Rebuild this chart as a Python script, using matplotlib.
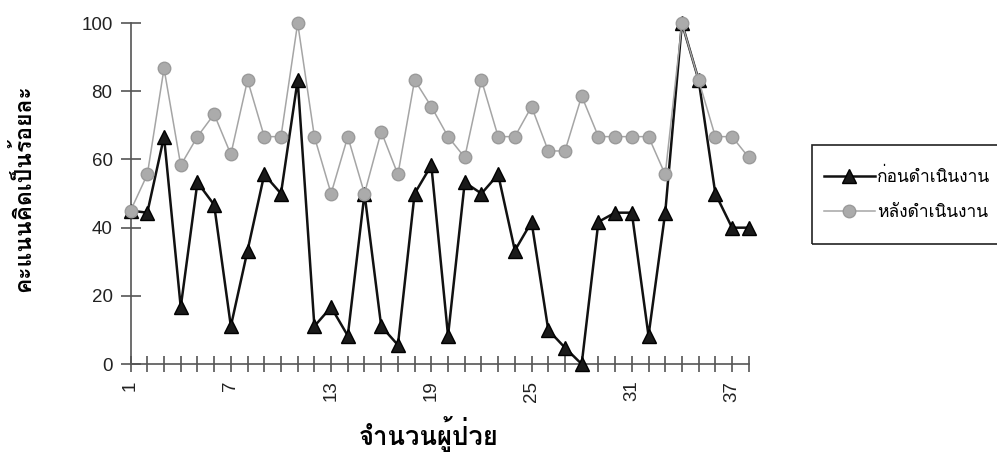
import matplotlib as mpl
mpl.use('Agg')
import matplotlib.pyplot as plt
from matplotlib import font_manager, ft2font

patients = list(range(1, 39))
before = [45, 44.4, 66.7, 16.7, 53.3, 46.7, 11.1, 33.3, 55.6, 50,
          83.3, 11.1, 16.7, 8.3, 50, 11.1, 5.6, 50, 58.3, 8.3,
          53.3, 50, 55.6, 33.3, 41.7, 10, 4.8, 0, 41.7, 44.4,
          44.4, 8.3, 44.4, 100, 83.3, 50, 40, 40]
after = [45, 55.6, 86.7, 58.3, 66.7, 73.3, 61.5, 83.3, 66.7, 66.7,
         100, 66.7, 50, 66.7, 50, 68.2, 55.6, 83.3, 75.5, 66.7,
         60.6, 83.3, 66.7, 66.7, 75.5, 62.5, 62.5, 78.6, 66.7, 66.7,
         66.7, 66.7, 55.6, 100, 83.3, 66.7, 66.7, 60.6]
labels = ['ก่อนดำเนินงาน', 'หลังดำเนินงาน']
xlabel = 'จำนวนผู้ป่วย'
ylabel = 'คะแนนคิดเป็นร้อยละ'
yticks = [0, 20, 40, 60, 80, 100]


def thai_font():
    # first installed family that actually has Thai glyphs
    for f in font_manager.fontManager.ttflist:
        try:
            if ft2font.FT2Font(f.fname).get_char_index(ord('ก')):
                return f.name
        except Exception:
            pass
    return 'DejaVu Sans'


thai = thai_font()
plt.rcParams['font.family'] = ['Liberation Sans', thai, 'DejaVu Sans']

fig = plt.figure(figsize=(9.97, 4.71), dpi=100)
ax = fig.add_axes([0.131, 0.227, 0.62, 0.724])

ax.plot(patients, before, color='#111111', lw=1.8, marker='^', ms=10,
        mfc='#1a1a1a', mec='#000000', label=labels[0], zorder=3, clip_on=False)
ax.plot(patients, after, color='#a5a5a5', lw=1.1, marker='o', ms=9,
        mfc='#ababab', mec='#9a9a9a', label=labels[1], zorder=4, clip_on=False)

ax.set_xlim(1, 38)
ax.set_ylim(0, 100)
ax.set_yticks(yticks)
ax.set_xticks(patients)
ax.set_xticklabels([str(p) if (p - 1) % 6 == 0 else '' for p in patients],
                   rotation=90)
for s in ['top', 'right']:
    ax.spines[s].set_visible(False)
for s in ['left', 'bottom']:
    ax.spines[s].set_color('#555555')
    ax.spines[s].set_linewidth(1.2)
ax.tick_params(axis='y', direction='inout', length=14, width=1.2,
               color='#555555', labelsize=13.5, pad=6, labelcolor='#222222')
ax.tick_params(axis='x', direction='inout', length=12, width=1.2,
               color='#555555', labelsize=13.5, pad=6, labelcolor='#222222')

fig.text(0.022, 0.6, ylabel, rotation=90, ha='center', va='center',
         fontsize=16.5, fontweight='bold', family=[thai, 'DejaVu Sans'])
fig.text(0.43, 0.078, xlabel, ha='center', va='center',
         fontsize=18.5, fontweight='bold', family=[thai, 'DejaVu Sans'])

# legend box runs off the right edge like the original
fig.patches.append(mpl.patches.Rectangle(
    (0.8145, 0.482), 0.3, 0.21, transform=fig.transFigure,
    facecolor='none', edgecolor='#222222', linewidth=1.2, zorder=5))
leg = fig.legend(loc='center left', bbox_to_anchor=(0.811, 0.587),
                 prop={'family': [thai, 'DejaVu Sans'], 'size': 12.5},
                 frameon=False, handlelength=2.9, handletextpad=0.15,
                 labelspacing=1.05, borderpad=0.4)

fig.savefig('out.png', dpi=100)
